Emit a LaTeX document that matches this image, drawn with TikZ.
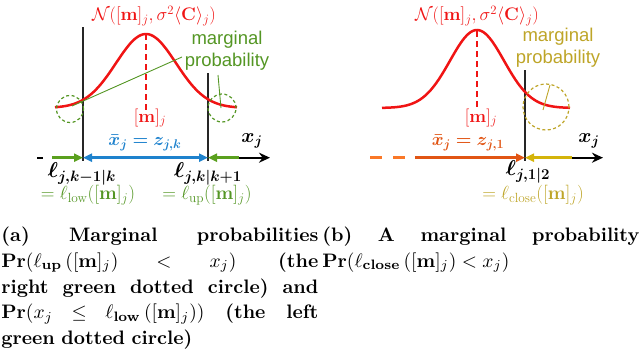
\RequirePackage{fix-cm}
\documentclass[tikz,border=0pt]{standalone}
\usepackage{amsmath,bm}
\usepackage[no-math]{fontspec}
\newfontfamily\labelsans{Liberation Sans}
\usetikzlibrary{arrows.meta}
\definecolor{cred}{RGB}{240,20,20}
\definecolor{cgreen}{RGB}{84,150,36}
\definecolor{cgarrow}{RGB}{90,160,30}
\definecolor{cblue}{RGB}{30,130,205}
\definecolor{colive}{RGB}{190,165,40}
\definecolor{coarrow}{RGB}{212,180,10}
\definecolor{corange}{RGB}{225,85,20}
\definecolor{cdash}{RGB}{250,120,40}
\newcommand{\capfont}{\fontsize{10}{13.33}\selectfont\bfseries}
\newcommand{\fsz}[1]{\fontsize{#1}{#1}\selectfont}
\newcommand{\jline}[1]{{\spaceskip=0.3333em plus 0.3em\xspaceskip=0pt\makebox[162.56pt][s]{#1}}}
\tikzset{
  vline/.style={line width=1.5pt, black!85},
  curve/.style={cred, line width=2.5pt},
  meanline/.style={cred, line width=2.5pt, dash pattern=on 6pt off 4pt},
  circ/.style={dash pattern=on 3pt off 2.5pt, line width=1.2pt},
  lead/.style={line width=0.9pt},
  axarrow/.style={line width=2pt, -{Stealth[length=11pt,width=10pt]}},
  colarrow/.style={line width=3pt, -{Triangle[length=9pt,width=8pt]}},
  lbl/.style={inner sep=0pt},
  mtitle/.style={lbl, cred, font=\fsz{18.2}},
  mmean/.style={lbl, cred, font=\fsz{18}},
  boldlbl/.style={lbl, font=\fsz{18}},
  elllbl/.style={lbl, font=\fsz{21.5}},
  bndlbl/.style={lbl, font=\fsz{19}},
  msans/.style={lbl, font=\labelsans\fontsize{18.5}{22}\selectfont, align=center},
  capbox/.style={anchor=north west, inner sep=0pt, scale=1.95, transform shape,
    text width=162.56pt, align=left, font=\capfont},
}
\begin{document}
\begin{tikzpicture}[x=1pt,y=-1pt]
\useasboundingbox (0,0) rectangle (640,356);
% ================= panel (a) =================
\coordinate (aL) at (83,157.7);
\coordinate (aR) at (208,157.7);
\draw[vline] (83,27) -- (83,161);
\draw[vline] (208,73) -- (208,161);
\draw[curve] plot[domain=55:237, samples=90, smooth] (\x, {108-74*exp(-((\x-146)^2)/1800)});
\coordinate (apeak) at (146,34);
\coordinate (amb) at (146,110);
\draw[meanline] (apeak) -- (amb);
\node[mtitle] (atitle) at (154,16) {$\mathcal{N}([\mathbf{m}]_j,\sigma^2\langle\mathbf{C}\rangle_j)$};
\node[mmean] (amean) at (150,118) {$[\mathbf{m}]_j$};
\node[msans, text=cgreen] (amarg) at (227,51) {marginal\\probability};
\node[circle, draw=cgreen, circ, minimum size=27pt, inner sep=0pt] (acl) at (70,109) {};
\node[circle, draw=cgreen, circ, minimum size=28pt, inner sep=0pt] (acr) at (222,108) {};
\coordinate (al1) at (182,57);
\coordinate (al2) at (72,106);
\coordinate (al3) at (218,75);
\coordinate (al4) at (221,108);
\draw[lead, cgreen] (al1) -- (al2);
\draw[lead, cgreen] (al3) -- (al4);
% axis
\coordinate (adash1) at (37,157.7);
\coordinate (adash2) at (43,157.7);
\coordinate (agL) at (52,157.7);
\coordinate (agR) at (239,157.7);
\coordinate (aend) at (270,157.7);
\draw[line width=2pt] (adash1) -- (adash2);
\draw[axarrow] (agR) -- (aend);
\draw[colarrow, cgarrow] (agL) -- (aL);
\draw[colarrow, cgarrow] (agR) -- (aR);
\draw[line width=3pt, cblue, {Triangle[length=9pt,width=8pt]}-{Triangle[length=9pt,width=8pt]}] (aL) -- (aR);
\node[boldlbl, cblue] (axbar) at (145,143) {$\bm{\bar{x}_j = z_{j,k}}$};
\node[lbl, font=\fsz{20}] (axj) at (252,141) {$\bm{x_j}$};
\node[elllbl] (alk1) at (82,174) {$\bm{\ell_{j,k-1|k}}$};
\node[bndlbl, cgreen] (alow) at (88,195) {$=\ell_{\mathrm{low}}([\mathbf{m}]_j)$};
\node[elllbl] (alk2) at (208,174) {$\bm{\ell_{j,k|k+1}}$};
\node[bndlbl, cgreen] (aup) at (207,195) {$=\ell_{\mathrm{up}}([\mathbf{m}]_j)$};
% ================= panel (b) =================
\coordinate (bL) at (525,157.7);
\draw[vline] (525,70) -- (525,161);
\draw[curve] plot[domain=382:570, samples=90, smooth] (\x, {108-78*exp(-((\x-477)^2)/1458)});
\coordinate (bpeak) at (477,31);
\coordinate (bmb) at (477,108);
\draw[meanline] (bpeak) -- (bmb);
\node[mtitle] (btitle) at (477,16) {$\mathcal{N}([\mathbf{m}]_j,\sigma^2\langle\mathbf{C}\rangle_j)$};
\node[mmean] (bmean) at (481,118) {$[\mathbf{m}]_j$};
\node[msans, text=colive] (bmarg) at (558,48) {marginal\\probability};
\node[circle, draw=colive, circ, minimum size=46pt, inner sep=0pt] (bc) at (546,107) {};
\coordinate (bl1) at (550,85);
\coordinate (bl2) at (543,110);
\draw[lead, colive] (bl1) -- (bl2);
\coordinate (bd1) at (370,157.7);
\coordinate (bd2) at (405,157.7);
\coordinate (boL) at (415,157.7);
\coordinate (byR) at (572,157.7);
\coordinate (bend) at (603,157.7);
\draw[line width=3pt, cdash, dash pattern=on 12pt off 11pt] (bd1) -- (bd2);
\draw[axarrow] (byR) -- (bend);
\draw[colarrow, corange] (boL) -- (bL);
\draw[colarrow, coarrow] (byR) -- (bL);
\node[boldlbl, corange] (bxbar) at (468,143) {$\bm{\bar{x}_j = z_{j,1}}$};
\node[lbl, font=\fsz{20}] (bxj) at (589,141) {$\bm{x_j}$};
\node[elllbl] (blk) at (528,172) {$\bm{\ell_{j,1|2}}$};
\node[bndlbl, colive] (bclose) at (533,195) {$=\ell_{\mathrm{close}}([\mathbf{m}]_j)$};
% ================= captions =================
\node[capbox] (capa) at (1,226) {\jline{(a) Marginal probabilities}\\
\jline{$\mathbf{Pr}(\ell_{\mathbf{up}}\left([\mathbf{m}]_j\right) < x_j)$ (the}\\
\jline{right green dotted circle) and}\\
\jline{$\mathbf{Pr}(x_j \leq \ell_{\mathbf{low}}\left([\mathbf{m}]_j\right))$ (the left}\\
green dotted circle)};
\node[capbox] (capb) at (322,226) {\jline{(b) A marginal probability}\\
$\mathbf{Pr}(\ell_{\mathbf{close}}\left([\mathbf{m}]_j\right) < x_j)$};
\end{tikzpicture}
\end{document}
